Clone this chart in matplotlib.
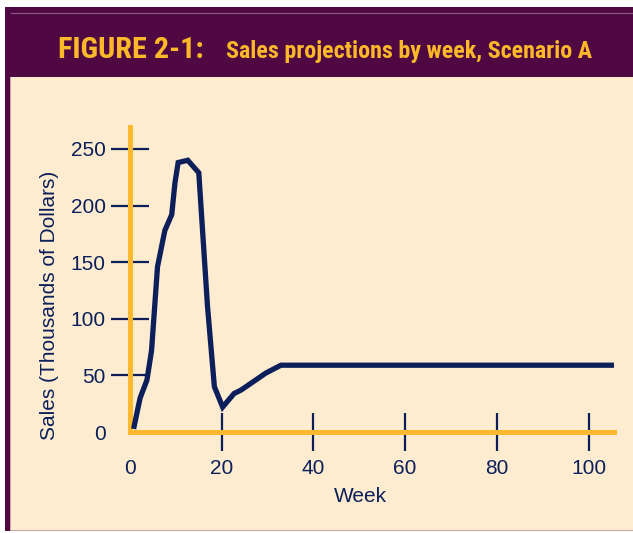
import matplotlib.pyplot as plt
from matplotlib import font_manager
from matplotlib.patches import Rectangle
from matplotlib.lines import Line2D

# data (week, sales in $k)
weeks = [0.9, 2.2, 3.7, 4.7, 6.0, 7.6, 9.1, 9.8, 10.5, 12.6, 15.0, 16.9, 18.4,
         20.2, 22.7, 24.2, 29.6, 32.9, 105.3]
sales = [5, 30, 46, 72, 146, 178, 192, 220, 238, 240, 229, 111, 40,
         22, 34, 37, 52, 59, 59]
x_ticks = [0, 20, 40, 60, 80, 100]
y_ticks = [0, 50, 100, 150, 200, 250]

MAROON = '#4f0842'
GOLD = '#fbb829'
CREAM = '#fdecd0'
NAVY = '#0c1f5a'
ORANGE = '#fdb92e'

names = {f.name for f in font_manager.fontManager.ttflist}
narrow = 'DejaVu Sans'
for cand in ['Liberation Sans Narrow', 'DejaVu Sans Condensed', 'Roboto Condensed']:
    if cand in names:
        narrow = cand
        break
plt.rcParams['font.family'] = ['Liberation Sans', 'DejaVu Sans']

W, H = 633, 533
fig = plt.figure(figsize=(W / 100, H / 100), dpi=100)
fig.patch.set_facecolor('white')

def px_rect(x0, y0, x1, y1, color, z=0):
    # rectangle given in pixel coords from top-left
    fig.add_artist(Rectangle((x0 / W, 1 - y1 / H), (x1 - x0) / W, (y1 - y0) / H,
                             transform=fig.transFigure, facecolor=color,
                             edgecolor='none', zorder=z))

px_rect(5, 7, W, 531, MAROON)
px_rect(10, 77, W, 530, CREAM, 1)
px_rect(10, 529.5, W, 531, '#c9a3a8', 1)
px_rect(10, 77, 11, 530, '#c9a3a8', 1)
fig.add_artist(Line2D([11 / W, 1], [1 - 12.5 / H] * 2, transform=fig.transFigure,
                      color='#8f5a86', lw=0.8))

fig.text(58 / W, 1 - 58 / H, 'FIGURE 2-1:', family=narrow, weight='bold',
         color=GOLD, fontsize=21.7, va='baseline', ha='left')
fig.text(226 / W, 1 - 58 / H, 'Sales projections by week, Scenario A', family=narrow,
         weight='bold', color=GOLD, fontsize=17.3, va='baseline', ha='left')

x0, x1 = 130, 613.6
y0, y1 = 432, 127
ax = fig.add_axes([x0 / W, 1 - y0 / H, (x1 - x0) / W, (y0 - y1) / H])
ax.set_facecolor('none')
ax.set_zorder(2)
ax.plot(weeks, sales, color=NAVY, lw=3.8, solid_joinstyle='miter', zorder=3)
ax.set_xlim(0, 105.45)
ax.set_ylim(0, 269.4)

for s in ['top', 'right']:
    ax.spines[s].set_visible(False)
for s in ['left', 'bottom']:
    ax.spines[s].set_color(ORANGE)
    ax.spines[s].set_linewidth(3.6)
    ax.spines[s].set_capstyle('projecting')

ax.set_xticks(x_ticks)
ax.set_yticks(y_ticks)
ax.tick_params(direction='inout', length=27, width=1.6, color=NAVY,
               labelcolor=NAVY, labelsize=15)
ax.tick_params(axis='x', pad=6)
ax.tick_params(axis='y', pad=4)
ax.xaxis.get_major_ticks()[0].tick1line.set_visible(False)
ax.yaxis.get_major_ticks()[0].tick1line.set_visible(False)

ax.set_xlabel('Week', fontsize=15, color=NAVY)
ax.xaxis.set_label_coords((360 - x0) / (x1 - x0), (y0 - 487) / (y0 - y1))
ax.set_ylabel('Sales (Thousands of Dollars)', fontsize=15, color=NAVY)
ax.yaxis.set_label_coords((59 - x0) / (x1 - x0), (y0 - 305) / (y0 - y1))

plt.savefig('out.png', dpi=100)
